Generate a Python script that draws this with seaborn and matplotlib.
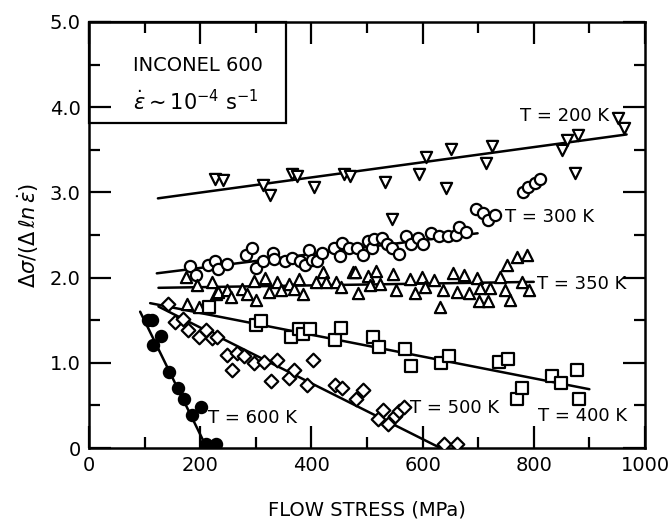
import matplotlib
matplotlib.use("Agg")
import matplotlib.pyplot as plt
import seaborn as sns
import pandas as pd
from matplotlib.patches import Rectangle
from matplotlib.ticker import MultipleLocator

# ---------------- data ----------------
t200_x = [226, 241, 313, 325, 365, 374, 404, 458, 470, 533, 545, 594, 606, 642,
          651, 714, 724, 850, 859, 874, 880, 952, 962]
t200_y = [3.16, 3.15, 3.09, 2.97, 3.22, 3.19, 3.06, 3.21, 3.19, 3.12, 2.69, 3.21,
          3.41, 3.05, 3.51, 3.34, 3.55, 3.50, 3.61, 3.23, 3.67, 3.87, 3.75]

t300_x = [181, 193, 214, 226, 232, 248, 282, 294, 301, 313, 331, 332, 353, 365,
          380, 389, 395, 401, 410, 419, 440, 452, 455, 467, 482, 492, 501, 509,
          512, 527, 536, 545, 557, 570, 579, 591, 600, 615, 630, 645, 660, 666,
          678, 696, 708, 718, 731, 781, 790, 802, 812]
t300_y = [2.14, 2.03, 2.15, 2.20, 2.10, 2.16, 2.26, 2.35, 2.11, 2.19, 2.29, 2.22,
          2.19, 2.23, 2.19, 2.15, 2.32, 2.21, 2.19, 2.29, 2.35, 2.25, 2.41, 2.35,
          2.35, 2.27, 2.43, 2.35, 2.45, 2.47, 2.40, 2.35, 2.28, 2.49, 2.39, 2.47,
          2.39, 2.52, 2.49, 2.49, 2.50, 2.59, 2.54, 2.81, 2.76, 2.68, 2.73, 3.01,
          3.06, 3.11, 3.16]

t350_x = [174, 177, 195, 198, 222, 228, 232, 248, 255, 276, 285, 296, 300, 316,
          324, 339, 345, 360, 369, 377, 385, 409, 421, 427, 445, 454, 475, 478,
          484, 502, 505, 517, 523, 547, 553, 577, 586, 599, 605, 620, 632, 637,
          654, 662, 674, 684, 698, 701, 704, 718, 722, 740, 749, 752, 758, 770,
          779, 787, 792]
t350_y = [2.01, 1.69, 1.91, 1.66, 1.95, 1.81, 1.83, 1.85, 1.77, 1.87, 1.81, 1.96,
          1.74, 1.99, 1.83, 1.95, 1.85, 1.93, 1.87, 1.98, 1.81, 1.95, 2.07, 1.95,
          1.95, 1.89, 2.07, 2.06, 1.82, 2.02, 1.91, 2.08, 1.92, 2.04, 1.86, 1.98,
          1.82, 2.01, 1.89, 1.97, 1.66, 1.86, 2.05, 1.83, 2.03, 1.82, 1.99, 1.72,
          1.88, 1.72, 1.88, 2.01, 1.86, 2.15, 1.74, 2.24, 1.95, 2.26, 1.85]

t400_x = [216, 300, 309, 363, 378, 385, 397, 442, 454, 511, 522, 568, 579, 633,
          647, 737, 754, 770, 778, 832, 849, 877, 881]
t400_y = [1.66, 1.44, 1.49, 1.30, 1.40, 1.34, 1.40, 1.27, 1.41, 1.30, 1.19, 1.16,
          0.96, 1.00, 1.08, 1.01, 1.05, 0.58, 0.71, 0.84, 0.76, 0.91, 0.58]

t500_x = [142, 154, 169, 178, 198, 210, 222, 231, 249, 258, 267, 279, 297, 315,
          327, 339, 360, 369, 392, 403, 442, 455, 481, 493, 520, 529, 537, 550,
          558, 567, 638, 662]
t500_y = [1.69, 1.48, 1.51, 1.38, 1.30, 1.38, 1.29, 1.30, 1.09, 0.92, 1.11, 1.08,
          1.00, 1.01, 0.79, 1.03, 0.82, 0.91, 0.74, 1.03, 0.74, 0.71, 0.57, 0.68,
          0.34, 0.45, 0.28, 0.37, 0.43, 0.48, 0.05, 0.05]

t600_x = [107, 113, 116, 130, 144, 161, 171, 186, 201, 211, 228]
t600_y = [1.50, 1.50, 1.21, 1.31, 0.89, 0.71, 0.58, 0.39, 0.48, 0.05, 0.05]

# fitted lines (end points)
fit_x = {"200": [124, 967], "300": [122, 699], "350": [125, 800],
         "400": [110, 900], "500": [125, 632], "600": [92, 212]}
fit_y = {"200": [2.93, 3.68], "300": [2.05, 2.52], "350": [1.88, 1.95],
         "400": [1.70, 0.69], "500": [1.66, 0.0], "600": [1.60, 0.0]}

labels = ["T = 200 K", "T = 300 K", "T = 350 K", "T = 400 K", "T = 500 K", "T = 600 K"]
label_x = [776, 749, 806, 808, 578, 214]
label_y = [3.90, 2.71, 1.93, 0.37, 0.47, 0.35]

x_ticks = [0, 200, 400, 600, 800, 1000]
y_ticks = [0, 1, 2, 3, 4, 5]
y_ticklabels = ["0", "1.0", "2.0", "3.0", "4.0", "5.0"]

# ---------------- plotting ----------------
sns.set_style("ticks")
plt.rcParams["font.family"] = ["DejaVu Sans"]
plt.rcParams["mathtext.fontset"] = "dejavusans"
plt.rcParams["text.color"] = "black"
plt.rcParams["axes.labelcolor"] = "black"
plt.rcParams["xtick.color"] = "black"
plt.rcParams["ytick.color"] = "black"

fig = plt.figure(figsize=(6.71, 5.31), dpi=100)
ax = fig.add_axes([0.1326, 0.1563, 0.8286, 0.8023])

series = [
    (t200_x, t200_y, "v", "white"),
    (t300_x, t300_y, "o", "white"),
    (t350_x, t350_y, "^", "white"),
    (t400_x, t400_y, "s", "white"),
    (t500_x, t500_y, "D", "white"),
    (t600_x, t600_y, "o", "black"),
]
for xs, ys, mk, fc in series:
    df = pd.DataFrame({"x": xs, "y": ys})
    sz = 65 if mk != "D" else 48
    sns.scatterplot(data=df, x="x", y="y", marker=mk, s=sz, facecolor=fc,
                    edgecolor="black", linewidth=1.6, ax=ax, zorder=3)

for k in fit_x:
    dfl = pd.DataFrame({"x": fit_x[k], "y": fit_y[k]})
    sns.lineplot(data=dfl, x="x", y="y", color="black", linewidth=1.8,
                 ax=ax, zorder=2, sort=False)

for t, lx, ly in zip(labels, label_x, label_y):
    ax.text(lx, ly, t, fontsize=13, va="center", ha="left", zorder=5,
            color="black")

# inset box
ax.add_patch(Rectangle((0, 3.82), 354, 1.18, fill=False, edgecolor="black",
                       linewidth=1.6, zorder=4, clip_on=False))
ax.text(80, 4.49, "INCONEL 600", fontsize=14, va="center", ha="left",
        color="black")
ax.text(80, 4.06, r"$\dot{\epsilon}\sim 10^{-4}\ \mathrm{s}^{-1}$", fontsize=15,
        va="center", ha="left", color="black")

ax.set_xlim(0, 1000)
ax.set_ylim(0, 5)
ax.set_xticks(x_ticks)
ax.set_xticklabels([str(v) for v in x_ticks])
ax.set_yticks(y_ticks)
ax.set_yticklabels(y_ticklabels)
ax.xaxis.set_minor_locator(MultipleLocator(100))
ax.yaxis.set_minor_locator(MultipleLocator(0.5))
ax.tick_params(which="both", direction="in", top=True, right=True,
               width=1.6, labelsize=14, colors="black")
ax.tick_params(which="major", length=16, pad=6)
ax.tick_params(which="minor", length=8)
for sp in ax.spines.values():
    sp.set_linewidth(1.8)
    sp.set_color("black")
    sp.set_visible(True)

ax.set_xlabel("FLOW STRESS (MPa)", fontsize=14, labelpad=18, color="black")
ax.set_ylabel(r"$\Delta\sigma/(\Delta\,\ell n\,\dot{\epsilon})$", fontsize=15,
              labelpad=6, color="black")

fig.savefig("out.png", dpi=100)
